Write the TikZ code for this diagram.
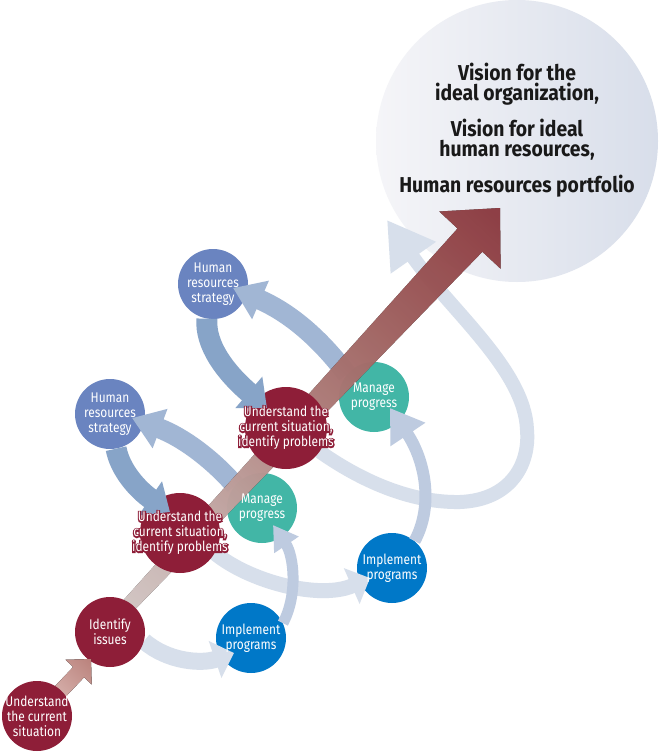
\documentclass[tikz,border=0pt]{standalone}
\usepackage{fontspec}
\setmainfont{Fira Sans}[FakeStretch=0.85]
\newfontfamily\bigfont{Fira Sans}[FakeStretch=0.9]
\newfontfamily\halofont{Fira Sans}[FakeStretch=0.85,FakeBold=18]
\usetikzlibrary{arrows.meta,calc}
\definecolor{dkred}{HTML}{8E1E38}
\definecolor{hrblue}{HTML}{6A84C0}
\definecolor{mteal}{HTML}{42B6A6}
\definecolor{implblue}{HTML}{0078C8}
\definecolor{bandA}{HTML}{87A4C8}
\definecolor{bandB}{HTML}{A1B6D4}
\definecolor{bandC}{HTML}{BECBE0}
\definecolor{bandD}{HTML}{D7DFEB}
\definecolor{bg0}{HTML}{F5F5F8}
\definecolor{bg1}{HTML}{ECEEF3}
\definecolor{bg2}{HTML}{D8DEEA}
\definecolor{rs0}{HTML}{F2E6E4}
\definecolor{rs1}{HTML}{E4CAC6}
\definecolor{rs2}{HTML}{C8928E}
\definecolor{rs3}{HTML}{B87270}
\definecolor{rs4}{HTML}{A95256}
\definecolor{rs5}{HTML}{A0434B}
\definecolor{ps0}{HTML}{E6CAC6}
\definecolor{ps1}{HTML}{BA827C}
\pgfdeclarehorizontalshading{redsh}{100bp}{color(0bp)=(rs0); color(25bp)=(rs0); color(35bp)=(rs1); color(50bp)=(rs2); color(60bp)=(rs3); color(70bp)=(rs4); color(75bp)=(rs5); color(100bp)=(rs5)}
\pgfdeclarehorizontalshading{pinksh}{100bp}{color(0bp)=(ps0); color(25bp)=(ps0); color(75bp)=(ps1); color(100bp)=(ps1)}
\pgfdeclarelayer{L1}\pgfdeclarelayer{L2}\pgfdeclarelayer{L3}\pgfdeclarelayer{L4}
\pgfdeclarelayer{L5}\pgfdeclarelayer{L6}\pgfdeclarelayer{L7}\pgfdeclarelayer{L8}
\pgfdeclarelayer{L9}\pgfdeclarelayer{L10}
\pgfsetlayers{L1,L2,L3,L4,L5,L6,L7,L8,L9,L10,main}
\newcommand\halotext[2]{%
  \node[lbl,text=dkred,font=\halofont\fontsize{14}{15}\selectfont] (#1-h) at (#1) {#2};
  \node[lbl] (#1-t) at (#1) {#2};}
\begin{document}
\begin{tikzpicture}[x=1pt,y=-1pt,
  circ/.style={circle,inner sep=0pt,minimum size=70pt,fill=#1},
  lbl/.style={text=white,align=center,inner sep=0pt,font=\fontsize{14}{15}\selectfont},
  bandtip/.style 2 args={-{Triangle[length=#1,width=#2]}}]
\useasboundingbox (0,0) rectangle (660,752);
\begin{pgfonlayer}{L1}
\fill[white] (0,0) rectangle (660,752);
\node[circle,inner sep=0pt,minimum size=282pt,left color=bg0,middle color=bg1,right color=bg2] (bigc) at (517,141) {};
\node[circ=implblue] (impl1) at (251,638) {};
\node[circ=implblue] (impl2) at (392,568) {};
\end{pgfonlayer}
\begin{pgfonlayer}{L3}
\node[circ=hrblue] (hr1) at (110,414) {};
\node[circ=hrblue] (hr2) at (213,284) {};
\end{pgfonlayer}
\begin{pgfonlayer}{L5}
\node[circ=mteal] (man1) at (262,508) {};
\node[circ=mteal] (man2) at (374,397) {};
\end{pgfonlayer}
\begin{pgfonlayer}{L8}
\node[circ=dkred,minimum size=80pt] (und1) at (180,533) {};
\node[circ=dkred,minimum size=82pt] (und2) at (286,428) {};
\node[circ=dkred] (idf) at (110,632) {};
\end{pgfonlayer}
\begin{pgfonlayer}{L10}
\node[circ=dkred] (und0) at (37,716) {};
\end{pgfonlayer}
% light bands
\begin{pgfonlayer}{L2}
\draw[bandD,line width=17pt,bandtip={20pt}{38pt}] (idf.-15) .. controls (168,662) and (202,664) .. (234,653);
\draw[bandD,line width=15pt,bandtip={20pt}{38pt}] (und1.-30) .. controls (250,582) and (320,600) .. (370,578);
\draw[bandD,line width=14pt,bandtip={46pt}{52pt}] (und2.-35) .. controls (360,480) and (410,503) .. (460,502) .. controls (510,500) and (530,465) .. (527,430) .. controls (525,370) and (450,310) .. (387,220);
\end{pgfonlayer}
% manage -> HR
\begin{pgfonlayer}{L4}
\draw[bandB,line width=20pt,bandtip={30pt}{40pt}] (man1.140) .. controls (215,462) and (185,438) .. (132,418);
\draw[bandB,line width=20pt,bandtip={30pt}{40pt}] (man2.140) .. controls (325,345) and (295,315) .. (233,288);
\end{pgfonlayer}
% implement -> manage
\begin{pgfonlayer}{L6}
\draw[bandC,line width=11pt,bandtip={24pt}{28pt}] (impl1.25) .. controls (298,595) and (294,556) .. (273,525);
\draw[bandC,line width=12pt,bandtip={32pt}{40pt}] (impl2.50) .. controls (434,505) and (425,460) .. (390,408);
\end{pgfonlayer}
% big red arrow (local frame along the arrow)
\begin{pgfonlayer}{L7}
\coordinate (rs) at (115,620);
\coordinate (rt) at (500,208);
\begin{scope}[transform canvas={shift={(rs)},rotate=46.94}]
\fill[shading=redsh,fill opacity=0.85]
  (0,-7) -- (519.9,-17) -- (519.9,-42) -- (563.9,0) -- (519.9,42) -- (519.9,17) -- (0,7) -- cycle;
\end{scope}
\end{pgfonlayer}
% HR -> understand, understand -> identify
\begin{pgfonlayer}{L9}
\draw[bandA,line width=21pt,bandtip={24pt}{40pt}] (hr1.-80) .. controls (120,470) and (138,490) .. (170,512);
\draw[bandA,line width=21pt,bandtip={24pt}{40pt}] (hr2.-100) .. controls (205,345) and (225,372) .. (267,408);
\coordinate (pt) at (91,659);
\begin{scope}[transform canvas={shift={(und0)},rotate=46.5}]
\fill[shading=pinksh]
  (0,-7.5) -- (60.5,-7.5) -- (60.5,-18) -- (78.5,0) -- (60.5,18) -- (60.5,7.5) -- (0,7.5) -- cycle;
\end{scope}
\end{pgfonlayer}
% texts
\node[anchor=north,align=center,inner sep=0pt,text=black!90,font=\bigfont\bfseries\fontsize{21.5}{19.5}\selectfont] (bigtext) at (517,63)
  {Vision for the\\ideal organization,\\[13.5pt]Vision for ideal\\human resources,\\[13.5pt]Human resources portfolio};
\node[lbl] (t-und0) at (und0) {Understand\\the current\\situation};
\node[lbl] (t-idf) at (idf) {Identify\\issues};
\node[lbl] (t-impl1) at (impl1) {Implement\\programs};
\node[lbl] (t-impl2) at (impl2) {Implement\\programs};
\node[lbl] (t-man1) at (man1) {Manage\\progress};
\node[lbl] (t-man2) at (man2) {Manage\\progress};
\node[lbl] (t-hr1) at (hr1) {Human\\resources\\strategy};
\node[lbl] (t-hr2) at (hr2) {Human\\resources\\strategy};
\halotext{und1}{Understand the\\current situation,\\identify problems}
\halotext{und2}{Understand the\\current situation,\\identify problems}
\end{tikzpicture}
\end{document}
